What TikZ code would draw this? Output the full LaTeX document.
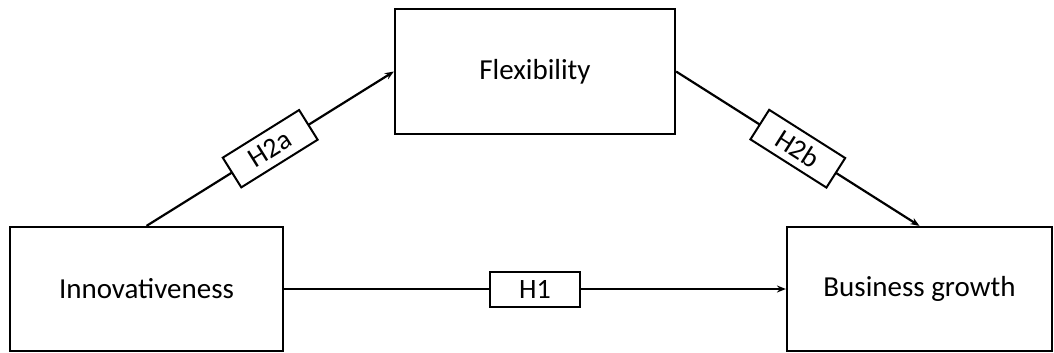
\documentclass[tikz,border=0pt]{standalone}
\usepackage{fontspec}
\setmainfont{Carlito}
\usetikzlibrary{arrows.meta}
\begin{document}
\begin{tikzpicture}[x=1pt,y=-1pt,
  box/.style={draw,line width=2.2pt,inner sep=0pt,font=\fontsize{29}{34}\selectfont,text=black},
  lab/.style={draw,line width=2pt,fill=white,inner sep=0pt,minimum width=90pt,minimum height=35pt,font=\fontsize{28}{32}\selectfont,text=black},
  conn/.style={line width=2.2pt,-{Stealth[length=9pt,width=7pt]}}]
\useasboundingbox (0,0) rectangle (1054,353);
\node[box,minimum width=273pt,minimum height=124pt] (inn) at (146.5,289) {Innovativeness};
\node[box,minimum width=280pt,minimum height=125pt] (flex) at (535,71.5) {Flexibility};
\node[box,minimum width=265pt,minimum height=124pt] (bg) at (919.5,289) {Business growth};
\draw[conn] (inn.north) -- node[lab,sloped] {H2a} (flex.west);
\draw[conn] (flex.east) -- node[lab,sloped] {H2b} (bg.north);
\draw[conn] (inn.east) -- node[lab] {H1} (bg.west);
\end{tikzpicture}
\end{document}
